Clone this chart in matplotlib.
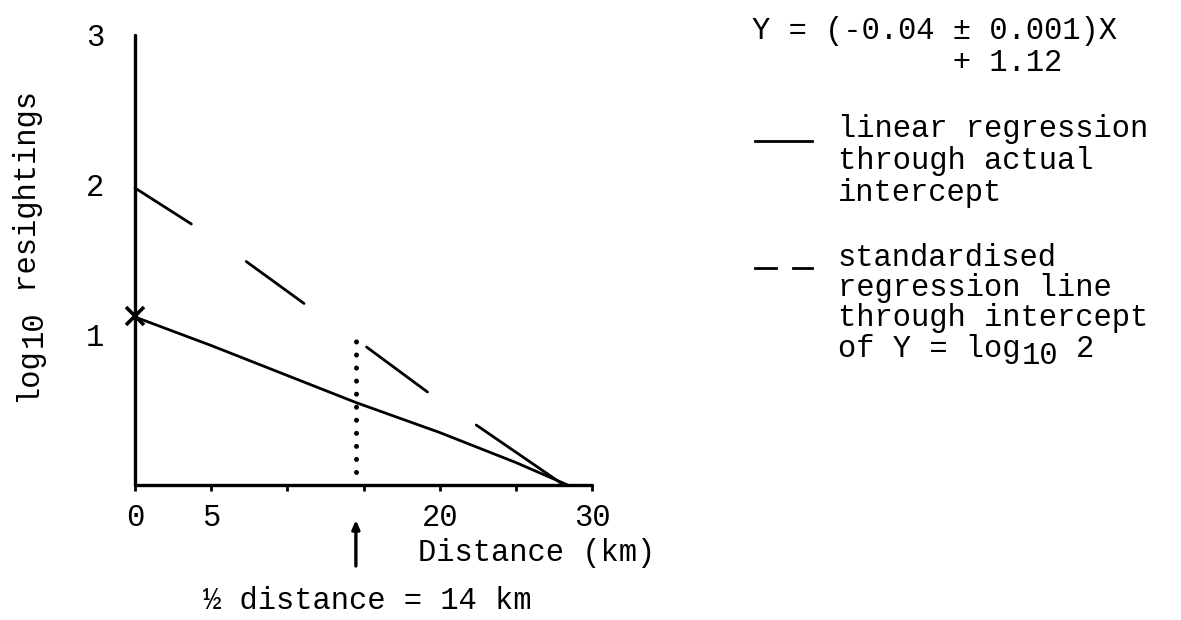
import matplotlib
matplotlib.use("Agg")
import matplotlib.pyplot as plt
from matplotlib.lines import Line2D

plt.rcParams['font.family'] = ['Liberation Mono', 'DejaVu Sans Mono']

# ---- data ----
x_ticks = [0, 5, 10, 15, 20, 25, 30]
x_tick_labels = ['0', '5', '', '', '20', '', '30']
y_ticks = [1, 2, 3]
y_tick_labels = ['1', '2', '3']

# linear regression through actual intercept (solid)
solid_x = [0, 5, 14.5, 20, 25, 28.4]
solid_y = [1.12, 0.93, 0.55, 0.35, 0.15, 0.0]

# actual intercept marker
intercept_x = [0]
intercept_y = [1.13]

# standardised regression line (drawn as separate dashes)
dash_x0 = [0.0, 7.3, 15.2, 22.4]
dash_y0 = [1.98, 1.49, 0.92, 0.40]
dash_x1 = [3.7, 11.1, 19.2, 28.0]
dash_y1 = [1.74, 1.21, 0.62, 0.01]

# half distance marker
half_x = 14.5
half_y = [0.09, 0.97]

W, H = 1181, 620
FS = 22
CW = FS * 100 / 72 * 0.6  # monospace character advance in pixels
fig = plt.figure(figsize=(W / 100, H / 100), dpi=100)
ax = fig.add_axes([135 / W, 1 - 485 / H, (592 - 135) / W, (485 - 35) / H])

ax.plot(solid_x, solid_y, color='black', lw=2.0, solid_capstyle='round', clip_on=False)
for xa, ya, xb, yb in zip(dash_x0, dash_y0, dash_x1, dash_y1):
    ax.plot([xa, xb], [ya, yb], color='black', lw=2.0, solid_capstyle='round', clip_on=False)
ax.plot(intercept_x, intercept_y, marker='x', ms=13, mew=2.6, color='black',
        linestyle='none', clip_on=False, zorder=5)
ax.plot([half_x, half_x], half_y, color='black', lw=3.6,
        linestyle=(0, (0.01, 2.6)), dash_capstyle='round')

ax.set_xlim(0, 30)
ax.set_ylim(0, 3)
for s in ['top', 'right']:
    ax.spines[s].set_visible(False)
for s in ['left', 'bottom']:
    ax.spines[s].set_linewidth(2.4)
    ax.spines[s].set_capstyle('round')

ax.set_xticks(x_ticks)
ax.set_xticklabels(x_tick_labels)
ax.set_yticks(y_ticks)
ax.set_yticklabels(y_tick_labels)
ax.tick_params(axis='x', direction='out', length=4, width=2.0, pad=9, labelsize=FS)
ax.tick_params(axis='y', length=0, pad=22, labelsize=FS)

def px(x, y):
    return x / W, 1 - y / H

def txt(x, y, s, **kw):
    fig.text(*px(x, y), s, ha='left', va='baseline', fontsize=FS, **kw)

# y axis label: "log" + lowered "10" + " resightings", rotated, typed upwards
yl_base_x, yl_start_y = 36, 402
fig.text(*px(yl_base_x, yl_start_y), 'log', rotation=90, rotation_mode='anchor',
         ha='left', va='baseline', fontsize=FS)
fig.text(*px(yl_base_x + 6, yl_start_y - 3 * CW), '10', rotation=90, rotation_mode='anchor',
         ha='left', va='baseline', fontsize=FS)
fig.text(*px(yl_base_x, yl_start_y - 5 * CW), ' resightings', rotation=90,
         rotation_mode='anchor', ha='left', va='baseline', fontsize=FS)

# x axis label and half distance note
txt(418, 561, 'Distance (km)')
txt(203, 609, '½ distance = 14 km')
ax.annotate('', xy=(half_x, 1 - 520 / H), xycoords=('data', 'figure fraction'),
            xytext=(half_x, 1 - 566 / H), textcoords=('data', 'figure fraction'),
            arrowprops=dict(arrowstyle='-|>,head_length=0.5,head_width=0.22',
                            color='black', lw=2.4, shrinkA=0, shrinkB=0),
            annotation_clip=False)

# equation
txt(752, 39, 'Y = (-0.04 ± 0.001)X')
txt(752, 71, '           + 1.12')

# legend
solid_lines = ['linear regression', 'through actual', 'intercept']
for i, t in enumerate(solid_lines):
    txt(838, 137 + 32 * i, t)
fig.add_artist(Line2D([755 / W, 812 / W], [1 - 141 / H, 1 - 141 / H],
                      transform=fig.transFigure, color='black', lw=2.0))

dash_lines = ['standardised', 'regression line', 'through intercept']
for i, t in enumerate(dash_lines):
    txt(838, 266 + 30 * i, t)
last_y = 266 + 30 * 3 + 1
txt(838, last_y, 'of Y = log')
txt(838 + 10 * CW, last_y + 7, '10')
txt(838 + 13 * CW, last_y, '2')
for xa, xb in [(755, 776), (793, 812)]:
    fig.add_artist(Line2D([xa / W, xb / W], [1 - 268 / H, 1 - 268 / H],
                          transform=fig.transFigure, color='black', lw=2.0))

fig.savefig('out.png', dpi=100)
